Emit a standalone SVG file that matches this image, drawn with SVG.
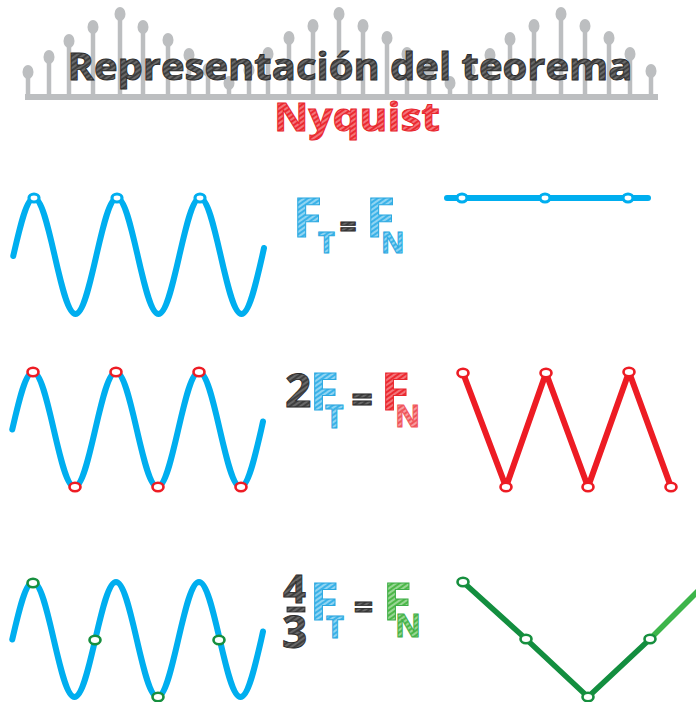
<svg xmlns="http://www.w3.org/2000/svg" width="696" height="702" viewBox="0 0 696 702">
<style>
.comb line{stroke:#BCBEC0;stroke-width:4.5}
.comb ellipse{fill:#BCBEC0}
.wave{fill:none;stroke:#00AEEF;stroke-width:6;stroke-linecap:round;stroke-linejoin:round}
.dotB{fill:#fff;stroke:#00AEEF;stroke-width:3.2}
.dotR{fill:#fff;stroke:#ED1C24;stroke-width:2.6}
.dotG{fill:#fff;stroke:#168F3E;stroke-width:2.6}
.t{font-family:"Open Sans","DejaVu Sans",sans-serif;font-weight:bold}
.dk{fill:url(#hD);stroke:#2b2b2b;stroke-width:0.9}
.bl{fill:url(#hB);stroke:#2AA8E0;stroke-width:1}
.rd{fill:url(#hR);stroke:#E8262D;stroke-width:1}
.rl{fill:url(#hRL);stroke:#F0575D;stroke-width:1}
.gr{fill:url(#hG);stroke:#3FAE49;stroke-width:1}
</style>
<defs>
<pattern id="hD" width="4" height="4" patternUnits="userSpaceOnUse" patternTransform="rotate(-35)">
<rect width="4" height="4" fill="#3f3f3f"/><line x1="0" y1="1" x2="4" y2="1" stroke="#9a9a9a" stroke-width="0.9"/></pattern>
<pattern id="hB" width="4" height="4" patternUnits="userSpaceOnUse" patternTransform="rotate(-35)">
<rect width="4" height="4" fill="#3AB2E8"/><line x1="0" y1="1" x2="4" y2="1" stroke="#E6F6FD" stroke-width="1"/></pattern>
<pattern id="hR" width="4" height="4" patternUnits="userSpaceOnUse" patternTransform="rotate(-35)">
<rect width="4" height="4" fill="#EC2A31"/><line x1="0" y1="1" x2="4" y2="1" stroke="#FBD3D5" stroke-width="0.9"/></pattern>
<pattern id="hRL" width="4" height="4" patternUnits="userSpaceOnUse" patternTransform="rotate(-35)">
<rect width="4" height="4" fill="#F0545A"/><line x1="0" y1="1" x2="4" y2="1" stroke="#FDE3E4" stroke-width="1"/></pattern>
<pattern id="hG" width="4" height="4" patternUnits="userSpaceOnUse" patternTransform="rotate(-35)">
<rect width="4" height="4" fill="#4DB848"/><line x1="0" y1="1" x2="4" y2="1" stroke="#E3F5E1" stroke-width="1"/></pattern>
</defs>
<rect width="696" height="702" fill="#fff"/>

<g id="title">
<g class="comb">
<rect x="25" y="94" width="633" height="6" fill="#BCBEC0"/>
<line x1="28" y1="72" x2="28" y2="96"/><ellipse cx="28" cy="72" rx="5.5" ry="7"/>
<line x1="49" y1="57" x2="49" y2="96"/><ellipse cx="49" cy="57" rx="5.5" ry="7"/>
<line x1="69" y1="41" x2="69" y2="96"/><ellipse cx="69" cy="41" rx="5.5" ry="7"/>
<line x1="93" y1="27" x2="93" y2="96"/><ellipse cx="93" cy="27" rx="5.5" ry="7"/>
<line x1="120" y1="14" x2="120" y2="96"/><ellipse cx="120" cy="14" rx="5.5" ry="7"/>
<line x1="143" y1="27" x2="143" y2="96"/><ellipse cx="143" cy="27" rx="5.5" ry="7"/>
<line x1="168" y1="40" x2="168" y2="96"/><ellipse cx="168" cy="40" rx="5.5" ry="7"/>
<line x1="189" y1="55" x2="189" y2="96"/><ellipse cx="189" cy="55" rx="5.5" ry="7"/>
<line x1="208" y1="70" x2="208" y2="96"/><ellipse cx="208" cy="70" rx="5.5" ry="7"/>
<line x1="229" y1="83" x2="229" y2="96"/><ellipse cx="229" cy="83" rx="5.5" ry="7"/>
<line x1="249" y1="70" x2="249" y2="96"/><ellipse cx="249" cy="70" rx="5.5" ry="7"/>
<line x1="268" y1="54" x2="268" y2="96"/><ellipse cx="268" cy="54" rx="5.5" ry="7"/>
<line x1="289" y1="38" x2="289" y2="96"/><ellipse cx="289" cy="38" rx="5.5" ry="7"/>
<line x1="313" y1="26" x2="313" y2="96"/><ellipse cx="313" cy="26" rx="5.5" ry="7"/>
<line x1="339" y1="14" x2="339" y2="96"/><ellipse cx="339" cy="14" rx="5.5" ry="7"/>
<line x1="363" y1="26" x2="363" y2="96"/><ellipse cx="363" cy="26" rx="5.5" ry="7"/>
<line x1="387" y1="38" x2="387" y2="96"/><ellipse cx="387" cy="38" rx="5.5" ry="7"/>
<line x1="407" y1="54" x2="407" y2="96"/><ellipse cx="407" cy="54" rx="5.5" ry="7"/>
<line x1="429" y1="70" x2="429" y2="96"/><ellipse cx="429" cy="70" rx="5.5" ry="7"/>
<line x1="450" y1="83" x2="450" y2="96"/><ellipse cx="450" cy="83" rx="5.5" ry="7"/>
<line x1="470" y1="70" x2="470" y2="96"/><ellipse cx="470" cy="70" rx="5.5" ry="7"/>
<line x1="490" y1="55" x2="490" y2="96"/><ellipse cx="490" cy="55" rx="5.5" ry="7"/>
<line x1="510" y1="39" x2="510" y2="96"/><ellipse cx="510" cy="39" rx="5.5" ry="7"/>
<line x1="534" y1="26" x2="534" y2="96"/><ellipse cx="534" cy="26" rx="5.5" ry="7"/>
<line x1="561" y1="14" x2="561" y2="96"/><ellipse cx="561" cy="14" rx="5.5" ry="7"/>
<line x1="585" y1="26" x2="585" y2="96"/><ellipse cx="585" cy="26" rx="5.5" ry="7"/>
<line x1="609" y1="38" x2="609" y2="96"/><ellipse cx="609" cy="38" rx="5.5" ry="7"/>
<line x1="630" y1="54" x2="630" y2="96"/><ellipse cx="630" cy="54" rx="5.5" ry="7"/>
<line x1="651" y1="71" x2="651" y2="96"/><ellipse cx="651" cy="71" rx="5.5" ry="7"/>
</g>
<text class="t dk" x="350" y="80" font-size="38" text-anchor="middle" textLength="565" lengthAdjust="spacingAndGlyphs">Representación del teorema</text>
<text class="t rd" x="357" y="131" font-size="40" text-anchor="middle" textLength="166" lengthAdjust="spacingAndGlyphs">Nyquist</text>
</g>

<g id="row1">
<path class="wave" d="M13.25,256 c6.77,-29.71 13.24,-58 20.75,-58 c7.51,0 13.98,28.29 20.75,58 c6.77,29.71 13.24,58 20.75,58 c7.51,0 13.98,-28.29 20.75,-58 c6.77,-29.71 13.24,-58 20.75,-58 c7.51,0 13.98,28.29 20.75,58 c6.77,29.71 13.24,58 20.75,58 c7.51,0 13.98,-28.29 20.75,-58 c6.77,-29.71 13.24,-58 20.75,-58 c7.51,0 13.98,28.29 20.75,58 c6.77,29.71 13.24,58 20.75,58 c7.51,0 13.98,-28.29 20.75,-58 l1.75,-8"/>
<ellipse class="dotB" cx="34" cy="198" rx="5" ry="4"/>
<ellipse class="dotB" cx="117" cy="198" rx="5" ry="4"/>
<ellipse class="dotB" cx="200" cy="198" rx="5" ry="4"/>
<text class="t bl" x="293" y="237" font-size="53">F</text>
<text class="t bl" x="318" y="253" font-size="29">T</text>
<text class="t dk" x="348" y="237" font-size="30" text-anchor="middle">=</text>
<text class="t bl" x="366" y="237" font-size="53">F</text>
<text class="t bl" x="381" y="253" font-size="29">N</text>
<line class="wave" x1="447" y1="198" x2="648" y2="198"/>
<ellipse class="dotB" cx="462" cy="198" rx="5" ry="4"/>
<ellipse class="dotB" cx="545" cy="198" rx="5" ry="4"/>
<ellipse class="dotB" cx="628" cy="198" rx="5" ry="4"/>
</g>

<g id="row2">
<path class="wave" d="M12.25,429.5 c6.77,-29.46 13.24,-57.5 20.75,-57.5 c7.51,0 13.98,28.04 20.75,57.5 c6.77,29.46 13.24,57.5 20.75,57.5 c7.51,0 13.98,-28.04 20.75,-57.5 c6.77,-29.46 13.24,-57.5 20.75,-57.5 c7.51,0 13.98,28.04 20.75,57.5 c6.77,29.46 13.24,57.5 20.75,57.5 c7.51,0 13.98,-28.04 20.75,-57.5 c6.77,-29.46 13.24,-57.5 20.75,-57.5 c7.51,0 13.98,28.04 20.75,57.5 c6.77,29.46 13.24,57.5 20.75,57.5 c7.51,0 13.98,-28.04 20.75,-57.5 l1.75,-8"/>
<ellipse class="dotR" cx="33" cy="372" rx="5.5" ry="4.3"/>
<ellipse class="dotR" cx="116" cy="372" rx="5.5" ry="4.3"/>
<ellipse class="dotR" cx="199" cy="372" rx="5.5" ry="4.3"/>
<ellipse class="dotR" cx="75" cy="487" rx="5.5" ry="4.3"/>
<ellipse class="dotR" cx="158" cy="487" rx="5.5" ry="4.3"/>
<ellipse class="dotR" cx="241" cy="487" rx="5.5" ry="4.3"/>
<text class="t dk" x="285" y="407" font-size="46">2</text>
<text class="t bl" x="310" y="410" font-size="52">F</text>
<text class="t bl" x="325" y="428" font-size="32">T</text>
<text class="t dk" x="362" y="413" font-size="38" text-anchor="middle">=</text>
<text class="t rd" x="381" y="410" font-size="52">F</text>
<text class="t rl" x="395" y="427" font-size="31">N</text>
<polyline fill="none" stroke="#ED1C24" stroke-width="6" stroke-linejoin="round" stroke-linecap="round" points="463,373 506,487 546,373 588,487 629,372 671,487"/>
<ellipse class="dotR" cx="463" cy="373" rx="5.5" ry="4.3"/>
<ellipse class="dotR" cx="506" cy="487" rx="5.5" ry="4.3"/>
<ellipse class="dotR" cx="546" cy="373" rx="5.5" ry="4.3"/>
<ellipse class="dotR" cx="588" cy="487" rx="5.5" ry="4.3"/>
<ellipse class="dotR" cx="629" cy="372" rx="5.5" ry="4.3"/>
<ellipse class="dotR" cx="671" cy="487" rx="5.5" ry="4.3"/>
</g>

<g id="row3">
<path class="wave" d="M12.25,639.5 c6.77,-29.46 13.24,-57.5 20.75,-57.5 c7.51,0 13.98,28.04 20.75,57.5 c6.77,29.46 13.24,57.5 20.75,57.5 c7.51,0 13.98,-28.04 20.75,-57.5 c6.77,-29.46 13.24,-57.5 20.75,-57.5 c7.51,0 13.98,28.04 20.75,57.5 c6.77,29.46 13.24,57.5 20.75,57.5 c7.51,0 13.98,-28.04 20.75,-57.5 c6.77,-29.46 13.24,-57.5 20.75,-57.5 c7.51,0 13.98,28.04 20.75,57.5 c6.77,29.46 13.24,57.5 20.75,57.5 c7.51,0 13.98,-28.04 20.75,-57.5 l1.75,-8"/>
<ellipse class="dotG" cx="33" cy="583" rx="5.5" ry="4.3"/>
<ellipse class="dotG" cx="95" cy="640" rx="5.5" ry="4.3"/>
<ellipse class="dotG" cx="158" cy="697" rx="5.5" ry="4.3"/>
<ellipse class="dotG" cx="219" cy="640" rx="5.5" ry="4.3"/>
<text class="t dk" x="283" y="603" font-size="40">4</text>
<rect x="287" y="607" width="18" height="5" fill="url(#hD)" stroke="#2b2b2b" stroke-width="0.8"/>
<text class="t dk" x="282" y="648" font-size="44">3</text>
<text class="t bl" x="310" y="620" font-size="52">F</text>
<text class="t bl" x="326" y="638" font-size="31">T</text>
<text class="t dk" x="363.5" y="619" font-size="34" text-anchor="middle">=</text>
<text class="t gr" x="383" y="620" font-size="52">F</text>
<text class="t gr" x="395" y="637" font-size="32">N</text>
<line x1="650" y1="639" x2="700" y2="589" stroke="#3DB54A" stroke-width="5.5"/>
<polyline fill="none" stroke="#138E3F" stroke-width="5.5" stroke-linejoin="round" stroke-linecap="round" points="463,582 526,639 588,697 650,639"/>
<ellipse class="dotG" cx="463" cy="582" rx="5.5" ry="4.3"/>
<ellipse class="dotG" cx="526" cy="639" rx="5.5" ry="4.3"/>
<ellipse class="dotG" cx="588" cy="697" rx="5.5" ry="4.3"/>
<ellipse class="dotG" cx="650" cy="639" rx="5.5" ry="4.3"/>
</g>
</svg>
